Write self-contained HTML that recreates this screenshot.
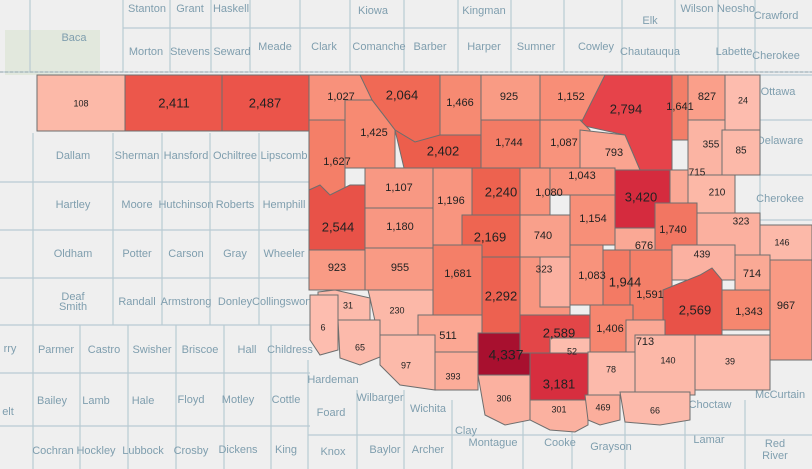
<!DOCTYPE html><html><head><style>
body{margin:0;background:#efefef}
svg{display:block}
.b{fill:none;stroke:#b9cbd3;stroke-width:1.2}
.l{font-family:"Liberation Sans",sans-serif;font-size:11px;fill:#7f9eae;text-anchor:middle}
.c{stroke:#6e6e6e;stroke-width:1}
.v{font-family:"Liberation Sans",sans-serif;fill:#222;text-anchor:middle;dominant-baseline:middle}
</style></head><body>
<svg width="812" height="469" viewBox="0 0 812 469">
<rect width="812" height="469" fill="#efefef"/>
<rect x="5" y="30" width="95" height="45" fill="#dde6d6" opacity=".7"/>
<g class="b">
<path d="M0 72H812"/><path d="M30 0V72M123 0V72M170 0V72M211 0V72M250 0V72M300 0V72M350 0V72M404 0V72M458 0V72M511 0V72M564 0V72M622 0V72M675 0V72M718 0V72M755 0V72"/>
<path d="M123 28H812"/>
<path d="M33 133V469M113 133V325M162 133V325M210 133V325M259 133V325"/>
<path d="M0 182H310M0 230H310M0 278H310M0 325H310M0 373H310M0 426H310"/>
<path d="M80 325V469M128 325V469M176 325V469M224 325V469M271 325V469"/>
<path d="M308 360V469M357 390V469M404 390V469M452 400V469M523 420V469M572 420V469M625 420V469M685 420V469M745 400V469"/>
<path d="M760 75V230M760 75H812M760 120H812M760 175H812M760 220H812"/>
<path d="M308 435H812"/>
</g>
<g class="l">
<text x="147" y="12">Stanton</text><text x="190" y="12">Grant</text><text x="231" y="12">Haskell</text>
<text x="373" y="14">Kiowa</text><text x="484" y="14">Kingman</text><text x="650" y="24">Elk</text>
<text x="697" y="12">Wilson</text><text x="736" y="12">Neosho</text><text x="776" y="19">Crawford</text>
<text x="74" y="41">Baca</text><text x="146" y="55">Morton</text><text x="190" y="55">Stevens</text><text x="232" y="55">Seward</text>
<text x="275" y="50">Meade</text><text x="324" y="50">Clark</text><text x="379" y="50">Comanche</text><text x="430" y="50">Barber</text>
<text x="484" y="50">Harper</text><text x="536" y="50">Sumner</text><text x="596" y="50">Cowley</text><text x="650" y="55">Chautauqua</text>
<text x="734" y="55">Labette</text><text x="776" y="59">Cherokee</text>
<text x="778" y="95">Ottawa</text><text x="780" y="144">Delaware</text><text x="780" y="202">Cherokee</text>
<text x="73" y="159">Dallam</text><text x="137" y="159">Sherman</text><text x="186" y="159">Hansford</text><text x="235" y="159">Ochiltree</text><text x="284" y="159">Lipscomb</text>
<text x="73" y="208">Hartley</text><text x="137" y="208">Moore</text><text x="186" y="208">Hutchinson</text><text x="235" y="208">Roberts</text><text x="284" y="208">Hemphill</text>
<text x="73" y="257">Oldham</text><text x="137" y="257">Potter</text><text x="186" y="257">Carson</text><text x="235" y="257">Gray</text><text x="284" y="257">Wheeler</text>
<text x="73" y="300">Deaf</text><text x="73" y="310">Smith</text><text x="137" y="305">Randall</text><text x="186" y="305">Armstrong</text><text x="235" y="305">Donley</text><text x="282" y="305">Collingswort</text>
<text x="56" y="353">Parmer</text><text x="104" y="353">Castro</text><text x="152" y="353">Swisher</text><text x="200" y="353">Briscoe</text><text x="247" y="353">Hall</text><text x="290" y="353">Childress</text>
<text x="52" y="404">Bailey</text><text x="96" y="404">Lamb</text><text x="143" y="404">Hale</text><text x="191" y="403">Floyd</text><text x="238" y="403">Motley</text><text x="286" y="403">Cottle</text>
<text x="53" y="454">Cochran</text><text x="96" y="454">Hockley</text><text x="143" y="454">Lubbock</text><text x="191" y="454">Crosby</text><text x="238" y="453">Dickens</text><text x="286" y="453">King</text>
<text x="333" y="383">Hardeman</text><text x="331" y="416">Foard</text><text x="333" y="455">Knox</text><text x="380" y="401">Wilbarger</text><text x="385" y="453">Baylor</text>
<text x="428" y="412">Wichita</text><text x="428" y="453">Archer</text><text x="466" y="434">Clay</text><text x="493" y="446">Montague</text><text x="560" y="446">Cooke</text>
<text x="611" y="450">Grayson</text><text x="710" y="408">Choctaw</text><text x="709" y="443">Lamar</text><text x="780" y="398">McCurtain</text><text x="775" y="447">Red</text><text x="775" y="459">River</text>
<text x="10" y="352">rry</text><text x="8" y="415">elt</text>
</g>
<g class="c">
<rect x="37" y="75" width="88" height="56" fill="#fcb9a8"/>
<rect x="125" y="75" width="97" height="56" fill="#ec574b"/>
<rect x="222" y="75" width="87" height="56" fill="#eb544a"/>
<rect x="309" y="75" width="63" height="45" fill="#f8917b"/>
<path d="M360 75H440V140L415 142L395 130L372 100Z" fill="#f06955"/>
<rect x="440" y="75" width="41" height="60" fill="#f68a72"/>
<rect x="481" y="75" width="59" height="45" fill="#f99b84"/>
<rect x="540" y="75" width="65" height="45" fill="#f88e77"/>
<path d="M605 75H672V170H640L625 135L580 125Z" fill="#e6434a"/>
<rect x="672" y="75" width="16" height="65" fill="#f37e68"/>
<rect x="688" y="75" width="37" height="45" fill="#fa9f8a"/>
<rect x="725" y="75" width="35" height="55" fill="#fdbcae"/>
<path d="M309 120H345V250H309Z" fill="#f47f68"/>
<path d="M345 100H372L395 130V168H345Z" fill="#f78a72"/>
<path d="M395 130L415 142L440 135H481V168H404Z" fill="#ec5e4c"/>
<rect x="481" y="120" width="59" height="48" fill="#f37b65"/>
<path d="M540 120H580L590 130V168H540Z" fill="#f8937c"/>
<path d="M580 130L625 135L640 170H580Z" fill="#faa490"/>
<rect x="640" y="170" width="48" height="30" fill="#faa895"/>
<rect x="688" y="120" width="37" height="55" fill="#fbb4a3"/>
<rect x="722" y="130" width="38" height="45" fill="#fcb9a9"/>
<path d="M309 190L320 185L330 195L350 185L365 185V250H309Z" fill="#e85248"/>
<rect x="365" y="168" width="68" height="40" fill="#f89883"/>
<rect x="365" y="208" width="68" height="40" fill="#f89782"/>
<rect x="433" y="168" width="39" height="77" fill="#f8957f"/>
<rect x="472" y="168" width="48" height="47" fill="#ed624f"/>
<rect x="520" y="168" width="30" height="47" fill="#f8937c"/>
<rect x="550" y="168" width="65" height="27" fill="#f8957f"/>
<rect x="570" y="195" width="45" height="50" fill="#f78f78"/>
<rect x="615" y="170" width="55" height="58" fill="#d52b3e"/>
<rect x="670" y="170" width="18" height="33" fill="#faa895"/>
<rect x="688" y="175" width="47" height="40" fill="#fcb8a7"/>
<rect x="462" y="215" width="58" height="42" fill="#ee6551"/>
<rect x="520" y="215" width="50" height="42" fill="#f9a08b"/>
<rect x="655" y="203" width="42" height="47" fill="#f27662"/>
<rect x="615" y="228" width="40" height="27" fill="#faa895"/>
<rect x="697" y="213" width="63" height="42" fill="#fbb09f"/>
<rect x="760" y="225" width="52" height="35" fill="#fcb9a9"/>
<rect x="309" y="250" width="56" height="40" fill="#f99b85"/>
<rect x="365" y="248" width="68" height="42" fill="#f99a84"/>
<rect x="433" y="245" width="49" height="70" fill="#f47f68"/>
<rect x="482" y="257" width="38" height="76" fill="#ed6150"/>
<rect x="520" y="257" width="50" height="58" fill="#f8957f"/>
<rect x="540" y="257" width="30" height="50" fill="#fbb1a1"/>
<rect x="570" y="245" width="33" height="60" fill="#f8937c"/>
<rect x="603" y="250" width="27" height="60" fill="#f37a64"/>
<rect x="630" y="250" width="42" height="70" fill="#f47f68"/>
<rect x="672" y="245" width="63" height="35" fill="#fbb1a1"/>
<rect x="735" y="255" width="35" height="35" fill="#faa995"/>
<path d="M663 290L700 275L712 268L722 280V340H663Z" fill="#e85248"/>
<rect x="722" y="290" width="48" height="40" fill="#f6876f"/>
<rect x="770" y="260" width="42" height="100" fill="#f99a84"/>
<path d="M318 292L335 290L370 298V330H318Z" fill="#fcbaab"/>
<path d="M368 290H433V335H378L370 298Z" fill="#fcb8a8"/>
<path d="M310 295H338V350L320 355L310 340Z" fill="#fdbdaf"/>
<path d="M338 320H380V357L360 365L340 358Z" fill="#fcbaab"/>
<rect x="418" y="315" width="64" height="40" fill="#fba793"/>
<rect x="478" y="333" width="52" height="42" fill="#a8102f"/>
<rect x="520" y="315" width="70" height="38" fill="#e34648"/>
<rect x="550" y="338" width="45" height="22" fill="#fcbcad"/>
<rect x="590" y="305" width="43" height="50" fill="#f6866f"/>
<rect x="626" y="320" width="39" height="35" fill="#faa895"/>
<path d="M380 335H435V390L400 385L380 365Z" fill="#fcbaaa"/>
<rect x="435" y="352" width="43" height="38" fill="#fbac99"/>
<rect x="530" y="353" width="58" height="47" fill="#d72e3f"/>
<rect x="588" y="352" width="47" height="43" fill="#fcbaab"/>
<rect x="635" y="335" width="60" height="60" fill="#fcb8a8"/>
<rect x="695" y="335" width="75" height="55" fill="#fcbbac"/>
<path d="M478 375H530V420L505 425L485 415Z" fill="#fbb1a0"/>
<path d="M530 400H588V425L575 432L550 430L530 420Z" fill="#fbb1a0"/>
<path d="M585 395H620V420L600 425L588 420Z" fill="#fbae9c"/>
<path d="M620 392H690V420L660 425L625 422Z" fill="#fcbaab"/>
</g>
<path d="M0 72H812" stroke="#9aaab2" stroke-dasharray="3,2" fill="none"/>
<g class="v" font-size="11">
<text x="81" y="104" font-size="9">108</text><text x="174" y="104" font-size="13">2,411</text><text x="265" y="104" font-size="13">2,487</text>
<text x="341" y="97">1,027</text><text x="402" y="96" font-size="13">2,064</text><text x="460" y="103">1,466</text><text x="509" y="97">925</text><text x="571" y="97">1,152</text>
<text x="626" y="110" font-size="13">2,794</text><text x="680" y="107">1,641</text><text x="707" y="97">827</text><text x="743" y="101" font-size="9">24</text>
<text x="337" y="162">1,627</text><text x="374" y="133">1,425</text><text x="443" y="152" font-size="13">2,402</text><text x="509" y="143">1,744</text><text x="564" y="143">1,087</text><text x="614" y="153">793</text>
<text x="711" y="145" font-size="10">355</text><text x="741" y="151" font-size="10">85</text><text x="697" y="173" font-size="10">715</text>
<text x="338" y="228" font-size="13">2,544</text><text x="399" y="188">1,107</text><text x="400" y="227">1,180</text><text x="451" y="201">1,196</text><text x="501" y="193" font-size="13">2,240</text>
<text x="549" y="193">1,080</text><text x="582" y="176">1,043</text><text x="593" y="219">1,154</text><text x="641" y="198" font-size="13">3,420</text><text x="717" y="193" font-size="10">210</text>
<text x="490" y="238" font-size="13">2,169</text><text x="543" y="236">740</text><text x="673" y="230">1,740</text><text x="644" y="246">676</text><text x="741" y="222" font-size="10">323</text><text x="782" y="243" font-size="9">146</text>
<text x="337" y="268">923</text><text x="400" y="268">955</text><text x="458" y="274">1,681</text><text x="501" y="297" font-size="13">2,292</text><text x="544" y="270" font-size="10">323</text>
<text x="592" y="276">1,083</text><text x="625" y="283" font-size="13">1,944</text><text x="650" y="295">1,591</text><text x="702" y="255" font-size="10">439</text><text x="752" y="274">714</text>
<text x="695" y="311" font-size="13">2,569</text><text x="749" y="312">1,343</text><text x="786" y="306">967</text>
<text x="348" y="306" font-size="9">31</text><text x="397" y="311" font-size="9">230</text><text x="323" y="328" font-size="9">6</text><text x="360" y="348" font-size="9">65</text><text x="448" y="336">511</text>
<text x="506" y="356" font-size="14">4,337</text><text x="559" y="334" font-size="13">2,589</text><text x="572" y="352" font-size="9">52</text><text x="610" y="329">1,406</text><text x="645" y="342">713</text>
<text x="406" y="366" font-size="9">97</text><text x="453" y="377" font-size="9">393</text><text x="559" y="385" font-size="13">3,181</text><text x="611" y="370" font-size="9">78</text><text x="668" y="361" font-size="9">140</text><text x="730" y="362" font-size="9">39</text>
<text x="504" y="399" font-size="9">306</text><text x="559" y="410" font-size="9">301</text><text x="603" y="408" font-size="9">469</text><text x="655" y="411" font-size="9">66</text>
</g>
</svg>
</body></html>
